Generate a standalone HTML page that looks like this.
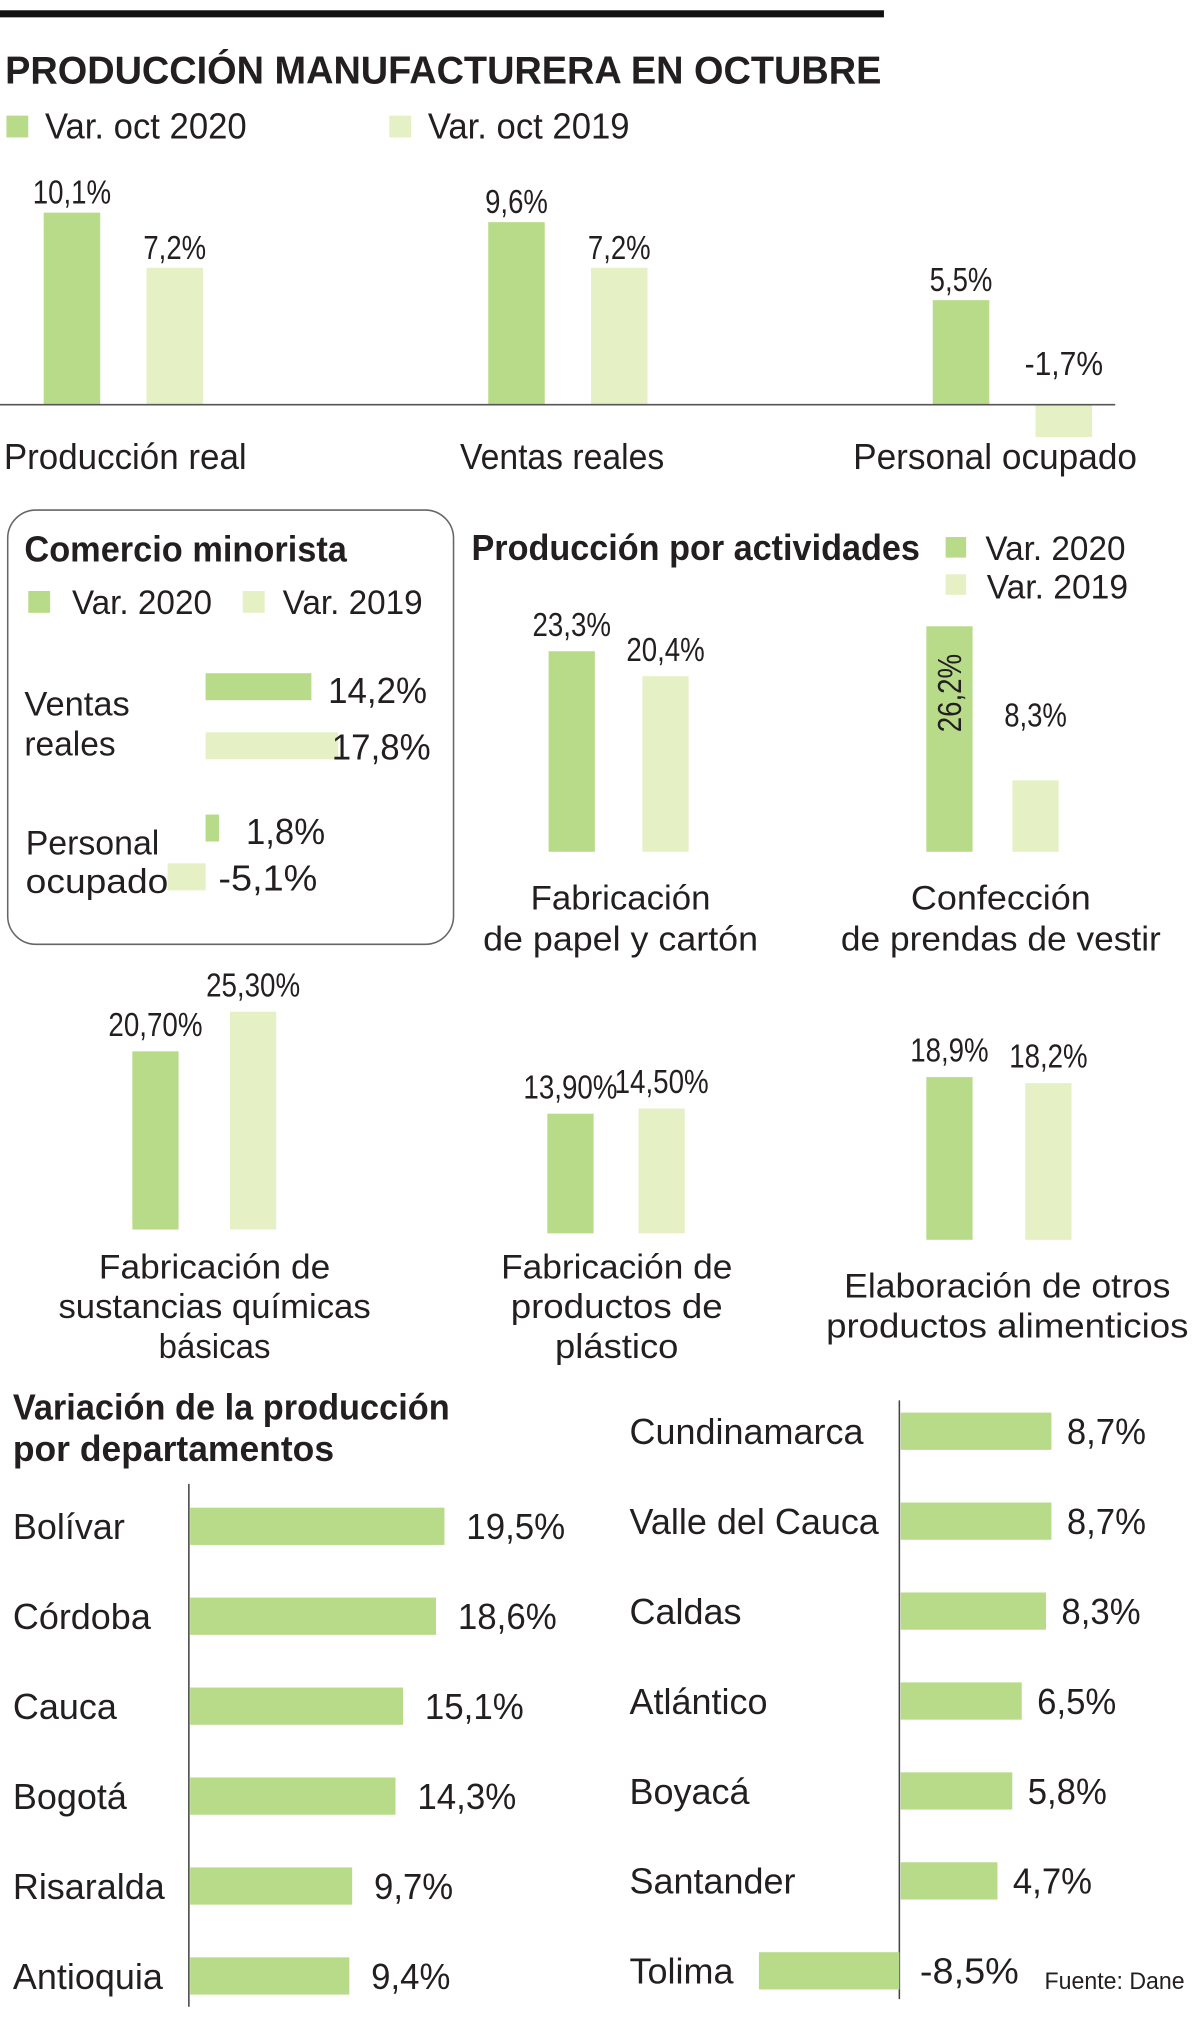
<!DOCTYPE html>
<html><head><meta charset="utf-8"><style>
html,body{margin:0;padding:0;background:#fff;}
svg{display:block;}
text{font-family:"Liberation Sans",sans-serif;fill:#231f20;}
</style></head><body>
<svg id="chart" width="1200" height="2019" viewBox="0 0 934 1571.5" preserveAspectRatio="none" xmlns="http://www.w3.org/2000/svg">
<rect x="0" y="8" width="688" height="5.5" fill="#111"/>
<text x="4" y="65" font-size="30" font-weight="bold" textLength="682" lengthAdjust="spacingAndGlyphs">PRODUCCIÓN MANUFACTURERA EN OCTUBRE</text>
<g>
<rect x="5" y="90" width="17" height="17" fill="#b8db8a"/>
<text x="35" y="108" font-size="28" textLength="157" lengthAdjust="spacingAndGlyphs">Var. oct 2020</text>
<rect x="303" y="90" width="17" height="17" fill="#e5f0c4"/>
<text x="333" y="108" font-size="28" textLength="157" lengthAdjust="spacingAndGlyphs">Var. oct 2019</text>
</g>
<g id="c1"></g>
<line x1="0" y1="315" x2="868" y2="315" stroke="#555" stroke-width="1.2"/>
<text x="3" y="365" font-size="28" textLength="189" lengthAdjust="spacingAndGlyphs">Producción real</text>
<text x="358" y="365" font-size="28" textLength="159" lengthAdjust="spacingAndGlyphs">Ventas reales</text>
<text x="664" y="365" font-size="28" textLength="221" lengthAdjust="spacingAndGlyphs">Personal ocupado</text>

<g>
<rect x="6" y="397" width="347" height="338" rx="22" fill="none" stroke="#666" stroke-width="1.2"/>
<text x="19" y="437" font-size="28" textLength="251" lengthAdjust="spacingAndGlyphs" style="font-weight:600">Comercio minorista</text>
<rect x="22" y="460" width="17" height="17" fill="#b8db8a"/>
<text x="56" y="478" font-size="27" textLength="109" lengthAdjust="spacingAndGlyphs">Var. 2020</text>
<rect x="189" y="460" width="17" height="17" fill="#e5f0c4"/>
<text x="220" y="478" font-size="27" textLength="109" lengthAdjust="spacingAndGlyphs">Var. 2019</text>
<text x="19" y="557" font-size="27" textLength="82" lengthAdjust="spacingAndGlyphs">Ventas</text>
<text x="19" y="588" font-size="27" textLength="71" lengthAdjust="spacingAndGlyphs">reales</text>
<text x="20" y="665" font-size="27" textLength="104" lengthAdjust="spacingAndGlyphs">Personal</text>
<text x="20" y="695" font-size="27" textLength="111" lengthAdjust="spacingAndGlyphs">ocupado</text>
<g id="c2"></g>
</g>

<text x="367" y="436" font-size="28" textLength="349" lengthAdjust="spacingAndGlyphs" style="font-weight:600">Producción por actividades</text>
<rect x="736" y="418" width="16" height="16" fill="#b8db8a"/>
<text x="767" y="436" font-size="27" textLength="109" lengthAdjust="spacingAndGlyphs">Var. 2020</text>
<rect x="736" y="447" width="16" height="16" fill="#e5f0c4"/>
<text x="768" y="466" font-size="27" textLength="110" lengthAdjust="spacingAndGlyphs">Var. 2019</text>
<g id="c3"></g>
<g font-size="27" text-anchor="middle">
<text x="483" y="708" textLength="140" lengthAdjust="spacingAndGlyphs">Fabricación</text>
<text x="483" y="740" textLength="214" lengthAdjust="spacingAndGlyphs">de papel y cartón</text>
<text x="779" y="708" textLength="140" lengthAdjust="spacingAndGlyphs">Confección</text>
<text x="779" y="740" textLength="249" lengthAdjust="spacingAndGlyphs">de prendas de vestir</text>
<text x="167" y="995" textLength="180" lengthAdjust="spacingAndGlyphs">Fabricación de</text>
<text x="167" y="1026" textLength="243" lengthAdjust="spacingAndGlyphs">sustancias químicas</text>
<text x="167" y="1057" textLength="87" lengthAdjust="spacingAndGlyphs">básicas</text>
<text x="480" y="995" textLength="180" lengthAdjust="spacingAndGlyphs">Fabricación de</text>
<text x="480" y="1026" textLength="165" lengthAdjust="spacingAndGlyphs">productos de</text>
<text x="480" y="1057" textLength="96" lengthAdjust="spacingAndGlyphs">plástico</text>
<text x="784" y="1010" textLength="254" lengthAdjust="spacingAndGlyphs">Elaboración de otros</text>
<text x="784" y="1041" textLength="282" lengthAdjust="spacingAndGlyphs">productos alimenticios</text>
</g>

<text x="10" y="1105" font-size="28" textLength="340" lengthAdjust="spacingAndGlyphs" style="font-weight:600">Variación de la producción</text>
<text x="10" y="1137" font-size="28" textLength="250" lengthAdjust="spacingAndGlyphs" style="font-weight:600">por departamentos</text>
<line x1="147" y1="1155" x2="147" y2="1562" stroke="#444" stroke-width="1.2"/>
<line x1="700" y1="1090" x2="700" y2="1556" stroke="#444" stroke-width="1.2"/>
<g id="c4"></g>
<text x="813" y="1548" font-size="19" textLength="109" lengthAdjust="spacingAndGlyphs">Fuente: Dane</text>
</svg>
<script>
// ---- Chart 1: main production ----
const mainCats = ['Producción real','Ventas reales','Personal ocupado'];
const main2020 = [10.1, 9.6, 5.5];
const main2019 = [7.2, 7.2, -1.7];
const main2020Labels = ['10,1%','9,6%','5,5%'];
const main2019Labels = ['7,2%','7,2%','-1,7%'];
// ---- Chart 2: retail ----
const retailCats = ['Ventas reales','Personal ocupado'];
const retail2020 = [14.2, 1.8];
const retail2019 = [17.8, -5.1];
const retail2020Labels = ['14,2%','1,8%'];
const retail2019Labels = ['17,8%','-5,1%'];
// ---- Chart 3: activities ----
const actCats = ['Papel y cartón','Prendas de vestir','Sustancias químicas','Plástico','Otros alimenticios'];
const act2020 = [23.3, 26.2, 20.7, 13.9, 18.9];
const act2019 = [20.4, 8.3, 25.3, 14.5, 18.2];
const act2020Labels = ['23,3%','26,2%','20,70%','13,90%','18,9%'];
const act2019Labels = ['20,4%','8,3%','25,30%','14,50%','18,2%'];
// ---- Chart 4: departments ----
const deptLeft = ['Bolívar','Córdoba','Cauca','Bogotá','Risaralda','Antioquia'];
const deptLeftVals = [19.5, 18.6, 15.1, 14.3, 9.7, 9.4];
const deptLeftLabels = ['19,5%','18,6%','15,1%','14,3%','9,7%','9,4%'];
const deptRight = ['Cundinamarca','Valle del Cauca','Caldas','Atlántico','Boyacá','Santander','Tolima'];
const deptRightVals = [8.7, 8.7, 8.3, 6.5, 5.8, 4.7, -8.5];
const deptRightLabels = ['8,7%','8,7%','8,3%','6,5%','5,8%','4,7%','-8,5%'];

const NS = 'http://www.w3.org/2000/svg';
const G = '#b8db8a', L = '#e5f0c4';
function mk(parent, tag, attrs){const e=document.createElementNS(NS,tag);for(const k in attrs)e.setAttribute(k,attrs[k]);parent.appendChild(e);return e;}
function txt(parent,x,y,s,size,anchor,perChar){const a={x:x,y:y,'font-size':size,'text-anchor':anchor};if(perChar){a.textLength=s.length*perChar;a.lengthAdjust='spacingAndGlyphs';}const e=mk(parent,'text',a);e.textContent=s;return e;}
function slug(s){return s.toLowerCase().normalize('NFD').replace(/[\u0300-\u036f]/g,'').replace(/[^a-z0-9]+/g,'-');}

// Chart 1
const c1 = document.getElementById('c1');
const y1 = v => 315 - v*14.8;
mainCats.forEach((c,i)=>{
  const gx = 34 + i*346, lx = gx + 80, w = 44;
  let el = mk(c1,'rect',{x:gx,y:Math.min(y1(main2020[i]),315),width:w,height:Math.abs(y1(main2020[i])-315),fill:G});
  
  
  el = mk(c1,'rect',{x:lx,y:Math.min(y1(main2019[i]),315),width:w,height:Math.abs(y1(main2019[i])-315),fill:L});
  
  
  el = txt(c1,gx+w/2,Math.min(y1(main2020[i]),315)-7,main2020Labels[i],26,'middle',12.2);
  
  
  const top19 = main2019[i] >= 0 ? y1(main2019[i]) - 7 : 292;
  el = txt(c1,lx+w/2,top19,main2019Labels[i],26,'middle',12.2);
  
  
});

// Chart 2
const c2 = document.getElementById('c2');
const x2 = v => 160 + v*5.8;
const retailRowY = [[524,570],[634,672]];
retailCats.forEach((c,i)=>{
  const v1 = retail2020[i], v2 = retail2019[i];
  let el = mk(c2,'rect',{x:Math.min(x2(0),x2(v1)),y:retailRowY[i][0],width:Math.abs(x2(v1)-x2(0)),height:21,fill:G});
  
  
  el = mk(c2,'rect',{x:Math.min(x2(0),x2(v2)),y:retailRowY[i][1],width:Math.abs(x2(v2)-x2(0)),height:21,fill:L});
  
  
  el = txt(c2,Math.max(x2(v1),x2(0))+(i===0?13:21),retailRowY[i][0]+23,retail2020Labels[i],28,'start',15.4);
  
  
  el = txt(c2,Math.max(x2(v2),x2(0))+(i===0?-5:10),retailRowY[i][1]+21,retail2019Labels[i],28,'start',15.4);
  
  
});

// Chart 3
const c3 = document.getElementById('c3');
const actScale = 6.7;
const actGreenX = [427,721,103,426,721];
const actBase = [663,663,957,960,965];
const actGap = [73,67,76,71,77];
actCats.forEach((c,i)=>{
  const b = actBase[i], gx = actGreenX[i], lx = gx + actGap[i], w = 36;
  const h1 = act2020[i]*actScale, h2 = act2019[i]*actScale;
  let el = mk(c3,'rect',{x:gx,y:b-h1,width:w,height:h1,fill:G});
  
  
  el = mk(c3,'rect',{x:lx,y:b-h2,width:w,height:h2,fill:L});
  
  
  if(i===1){
    el = txt(c3,0,0,act2020Labels[i],26,'middle',12.2);
    el.setAttribute('transform','translate('+(gx+w/2+9)+','+(b-h1+52)+') rotate(-90)');
  } else {
    el = txt(c3,gx+w/2,b-h1-12,act2020Labels[i],26,'middle',12.2);
  }
  
  
  el = txt(c3,lx+w/2,i===1? b-h2-42 : b-h2-12,act2019Labels[i],26,'middle',12.2);
  
  
});

// Chart 4
const c4 = document.getElementById('c4');
const xl = v => 148 + 55 + v*7.33;
deptLeft.forEach((c,i)=>{
  const cy = 1188 + i*70;
  let el = txt(c4,10,cy+10,c,28,'start',0);
  
  
  el = mk(c4,'rect',{x:148,y:cy-14.5,width:xl(deptLeftVals[i])-148,height:29,fill:G});
  
  
  el = txt(c4,xl(deptLeftVals[i])+17,cy+10,deptLeftLabels[i],28,'start',15.4);
  
  
});
const xr = v => v >= 0 ? 701 + 26 + v*10.5 : 700 - 26 + v*9.8;
deptRight.forEach((c,i)=>{
  const cy = 1114 + i*70;
  const v = deptRightVals[i];
  let el = txt(c4,490,cy+10,c,28,'start',0);
  
  
  const x0 = v>=0 ? 701 : xr(v);
  const wd = v>=0 ? xr(v)-701 : 700-xr(v);
  el = mk(c4,'rect',{x:x0,y:cy-14.5,width:wd,height:29,fill:G});
  
  
  el = txt(c4,v>=0? xr(v)+12 : 716,cy+10,deptRightLabels[i],28,'start',15.4);
  
  
});
</script>
</body></html>
